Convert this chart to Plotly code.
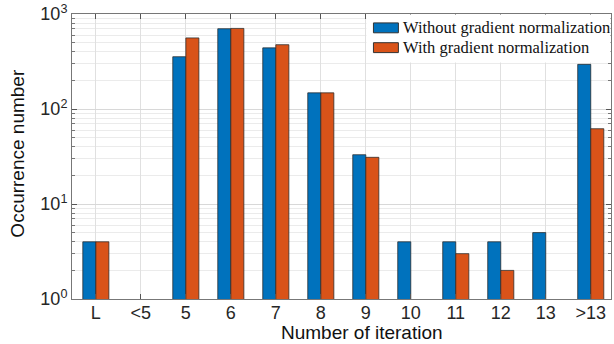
import plotly.graph_objects as go

categories = ["L", "<5", "5", "6", "7", "8", "9", "10", "11", "12", "13", ">13"]
without_norm = [4, 0, 355, 700, 440, 148, 33, 4, 4, 4, 5, 295]
with_norm = [4, 0, 560, 705, 475, 148, 31, 0, 3, 2, 0, 62]
series_names = ["Without gradient normalization", "With gradient normalization"]
y_tickvals = [1, 10, 100, 1000]
y_ticktext = ["10<sup>0</sup>", "10<sup>1</sup>", "10<sup>2</sup>", "10<sup>3</sup>"]
minor_vals = [m * 10 ** d for d in range(3) for m in range(2, 10)]

BLUE = "#0072BD"
ORANGE = "#D95319"
EDGE = "rgba(40,40,40,0.75)"
colors = [BLUE, ORANGE]

fig = go.Figure()
for name, vals, col in zip(series_names, [without_norm, with_norm], colors):
    fig.add_trace(go.Bar(x=categories, y=vals, name=name, showlegend=False,
                         marker=dict(color=col, line=dict(color=EDGE, width=1))))

axis_font = dict(family="Liberation Sans, Arial", size=18, color="#262626")

# plot area in pixels: x 72..612, y 11..299
L, R, T, B = 72, 612, 11, 299
def px(xp):
    return (xp - L) / (R - L)
def py(yp):
    return (B - yp) / (B - T)

shapes = [dict(type="rect", xref="paper", yref="paper", layer="above",
               x0=px(367), x1=px(611.5), y0=py(60), y1=py(11.5),
               fillcolor="white", line=dict(width=0))]
annotations = []
for i, (name, col) in enumerate(zip(series_names, colors)):
    cy = 25 + 20 * i
    shapes.append(dict(type="rect", xref="paper", yref="paper", layer="above",
                       x0=px(374), x1=px(399), y0=py(cy + 5), y1=py(cy - 5),
                       fillcolor=col, line=dict(color="#333", width=1)))
    annotations.append(dict(text=name, xref="paper", yref="paper", x=px(402), y=py(cy),
                            xanchor="left", yanchor="middle", showarrow=False,
                            font=dict(family="Liberation Serif", size=16.5, color="#111")))

annotations += [
    dict(text="Number of iteration", xref="paper", yref="paper",
         x=px(363), y=py(333), xanchor="center", yanchor="middle",
         showarrow=False, font=dict(family="Liberation Sans, Arial", size=19, color="#111")),
    dict(text="Occurrence number", xref="paper", yref="paper",
         x=px(17), y=py(152), xanchor="center", yanchor="middle", textangle=-90,
         showarrow=False, font=dict(family="Liberation Sans, Arial", size=19, color="#111")),
]

fig.update_layout(
    width=614, height=344,
    margin=dict(l=L, r=614 - R, t=T, b=344 - B),
    paper_bgcolor="white", plot_bgcolor="white",
    barmode="group", bargap=0.42, bargroupgap=0,
    showlegend=False,
    xaxis=dict(range=[-0.53, 11.45], showgrid=True, gridcolor="#e0e0e0", gridwidth=1,
               showline=True, linecolor="#777", linewidth=1, mirror="ticks",
               ticks="inside", ticklen=5, tickcolor="#555", ticklabelstandoff=-3,
               tickfont=axis_font, zeroline=False, ticklabeloverflow="allow"),
    yaxis=dict(type="log", range=[0, 3], tickvals=y_tickvals, ticktext=y_ticktext,
               showgrid=True, gridcolor="#d8d8d8", gridwidth=1,
               showline=True, linecolor="#777", linewidth=1, mirror="ticks",
               ticks="inside", ticklen=5, tickcolor="#555",
               tickfont=axis_font, zeroline=False, ticklabeloverflow="allow",
               minor=dict(tickvals=minor_vals, showgrid=True, gridcolor="#ebebeb",
                          ticks="inside", ticklen=3, tickcolor="#777")),
    shapes=shapes,
    annotations=annotations,
)

fig.write_html("out.html")
